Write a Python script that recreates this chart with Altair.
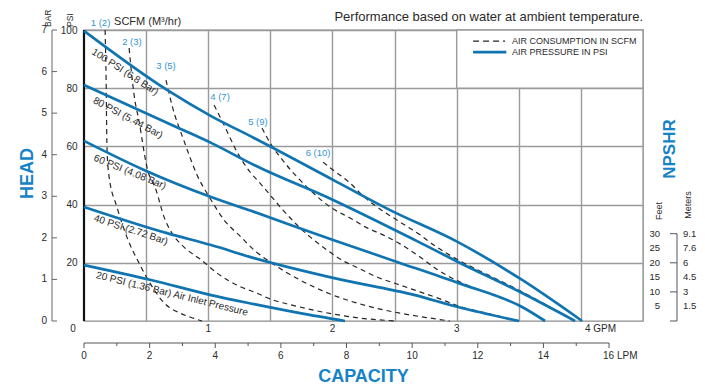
import altair as alt
import pandas as pd

FONT = "Liberation Sans"
BLUE = "#0f74b0"
HEADBLUE = "#1683c6"
LABELBLUE = "#3494d2"
GRID = "#9a9a9a"
TXT = "#2a2a2a"

# ---------------- data (x in GPM, y in PSI of head) ----------------
p100_x = [0, 0.668, 1.023, 1.369, 2.005, 2.464, 3.011, 3.527, 4.01]
p100_y = [99.7, 79.4, 70.4, 62.9, 48.5, 38.1, 27.1, 14.1, 0]
p80_x = [0, 0.773, 1.023, 1.369, 2.005, 2.665, 3.011, 3.527, 3.953]
p80_y = [81.1, 66.1, 61.2, 53.6, 41.6, 27.8, 20.3, 9.6, 0]
p60_x = [0, 0.483, 1.023, 1.369, 2.005, 2.52, 3.011, 3.527, 3.712]
p60_y = [61.9, 51.9, 42.6, 37.5, 27.8, 20.3, 13.1, 4.8, 0]
p40_x = [0, 0.668, 1.023, 1.369, 2.005, 2.665, 3.011, 3.502]
p40_y = [39.2, 30.2, 26.1, 21.6, 14.8, 8.9, 4.8, 0]
p20_x = [0, 0.539, 1.023, 1.369, 1.739, 2.101]
p20_y = [19.2, 14.1, 8.9, 5.8, 2.7, 0]

a1_x = [0.17, 0.178, 0.185, 0.20, 0.265, 0.345, 0.443, 0.53, 0.645, 0.773, 0.886, 0.95]
a1_y = [100, 82.8, 59.5, 50.2, 39.2, 28.9, 19.9, 13.1, 6.2, 2.7, 0.9, 0]
a2_x = [0.363, 0.403, 0.443, 0.508, 0.58, 0.645, 0.708, 0.805, 0.943, 1.07, 1.263, 1.368,
        1.498, 1.738, 2.005, 2.223, 2.52]
a2_y = [93.8, 77.7, 68.7, 52.6, 45.0, 35.7, 30.2, 25.4, 21.0, 16.5, 11.7, 10.0, 7.6, 4.8,
        2.4, 1.0, 0]
a3_x = [0.66, 0.708, 0.805, 0.91, 1.023, 1.128, 1.263, 1.368, 1.498, 1.738, 2.005, 2.278,
        2.543, 2.785, 2.945]
a3_y = [82.8, 74.2, 61.9, 50.2, 41.6, 34.7, 28.9, 24.4, 20.3, 14.1, 8.9, 5.2, 2.7, 1.0, 0]
a4_x = [1.047, 1.127, 1.232, 1.337, 1.417, 1.498, 1.602, 1.715, 1.82, 1.956, 2.061, 2.222,
        2.359, 2.52, 2.705, 2.866, 3.011, 3.269, 3.502]
a4_y = [74.2, 67.4, 58.1, 51.2, 47.4, 43.3, 38.1, 33.0, 28.9, 24.4, 21.3, 17.9, 15.1, 12.7,
        10.0, 7.6, 5.2, 2.4, 0]
a5_x = [1.433, 1.498, 1.578, 1.715, 1.82, 1.981, 2.142, 2.279, 2.407, 2.544, 2.705, 2.826,
        3.011, 3.269, 3.527, 3.712]
a5_y = [66.3, 61.2, 56.4, 49.5, 45.0, 39.2, 35.4, 32.0, 29.6, 26.5, 22.0, 18.2, 13.7, 9.3,
        4.8, 0]
a6_x = [1.924, 2.005, 2.142, 2.246, 2.359, 2.544, 2.705, 2.826, 3.011, 3.269, 3.527, 3.752,
        3.953]
a6_y = [54.6, 51.9, 47.4, 43.0, 39.2, 34.0, 29.6, 25.8, 21.0, 15.5, 10.0, 4.8, 0]

air_labels = ["1 (2)", "2 (3)", "3 (5)", "4 (7)", "5 (9)", "6 (10)"]
air_label_x = [0.133, 0.386, 0.66, 1.095, 1.40, 1.884]
air_label_y = [102.4, 95.9, 87.6, 77.0, 68.4, 57.7]

psi_labels = ["100 PSI (6.8 Bar)", "80 PSI (5.44 Bar)", "60 PSI (4.08 Bar)",
              "40 PSI (2.72 Bar)", "20 PSI (1.36 Bar) Air Inlet Pressure"]
psi_label_x = [0.33, 0.354, 0.37, 0.378, 0.709]
psi_label_y = [85.6, 69.8, 51.2, 31.3, 9.3]
psi_label_angle = [33, 28, 22, 18, 14]

gpm_ticks = [1, 2, 3]
lpm_values = list(range(0, 17))
LPM_PER_GPM = 3.7854
bar_values = list(range(0, 8))
BAR_TO_PSI = 100 / 7
feet_values = [30, 25, 20, 15, 10, 5]
meter_labels = ["9.1", "7.6", "6", "4.5", "3", "1.5"]
bracket_feet = [0, 10, 20, 30]

# ---------------- scales / axes ----------------
xs = alt.Scale(domain=[0, 4.5], nice=False, zero=False)
ys = alt.Scale(domain=[0, 100], nice=False, zero=False)
x_axis = alt.Axis(values=[0.5, 1, 1.5, 2, 2.5, 3, 3.5, 4], grid=True, gridColor=GRID,
                  gridWidth=1.4, labels=False, ticks=False, domain=False,
                  title="CAPACITY", titleX=279, titleY=55, titleAngle=0,
                  titleAlign="center", titleBaseline="middle", titleFontSize=18,
                  titleFontWeight="bold", titleColor=HEADBLUE, titleFont=FONT)
y_axis = alt.Axis(values=[20, 40, 60, 80, 100], grid=True, gridColor=GRID, gridWidth=1.4,
                  labelPadding=7, labelFontSize=10, labelColor=TXT, labelFont=FONT,
                  ticks=False, domain=False, title="HEAD", titleX=-57, titleY=143,
                  titleAngle=-90, titleAlign="center", titleBaseline="middle",
                  titleFontSize=18, titleFontWeight="bold", titleColor=HEADBLUE,
                  titleFont=FONT)


def X(f):
    return alt.X(f"{f}:Q", scale=xs, axis=x_axis)


def Y(f):
    return alt.Y(f"{f}:Q", scale=ys, axis=y_axis)


def txt(**kw):
    base = dict(font=FONT, baseline="middle", color=TXT)
    base.update(kw)
    return base


def long_df(series):
    rows = []
    for name, (xv, yv) in series.items():
        for i, (a, b) in enumerate(zip(xv, yv)):
            rows.append({"series": name, "gpm": a, "psi": b, "i": i})
    return pd.DataFrame(rows)


pres_df = long_df({"100": (p100_x, p100_y), "80": (p80_x, p80_y), "60": (p60_x, p60_y),
                   "40": (p40_x, p40_y), "20": (p20_x, p20_y)})
air_df = long_df({"1": (a1_x, a1_y), "2": (a2_x, a2_y), "3": (a3_x, a3_y),
                  "4": (a4_x, a4_y), "5": (a5_x, a5_y), "6": (a6_x, a6_y)})

layers = []

# legend box (white, covers grid)
box_df = pd.DataFrame({"gpm": [3.0], "gpm2": [4.5], "psi": [80], "psi2": [100]})
layers.append(alt.Chart(box_df).mark_rect(fill="white", stroke=GRID, strokeWidth=1.4).encode(
    x=X("gpm"), x2="gpm2", y=Y("psi"), y2="psi2"))

# left border
lb_df = pd.DataFrame({"gpm": [0], "psi": [0], "psi2": [100]})
layers.append(alt.Chart(lb_df).mark_rule(color="#111", strokeWidth=2.2).encode(
    x=X("gpm"), y=Y("psi"), y2="psi2"))

# air consumption (dashed)
layers.append(alt.Chart(air_df).mark_line(color="#262626", strokeWidth=1.2, strokeDash=[5, 4],
                                          interpolate="monotone").encode(
    x=X("gpm"), y=Y("psi"), detail="series:N", order="i:Q"))

# pressure curves
layers.append(alt.Chart(pres_df).mark_line(color=BLUE, strokeWidth=2.7,
                                           interpolate="monotone").encode(
    x=X("gpm"), y=Y("psi"), detail="series:N", order="i:Q"))

# air labels
al_df = pd.DataFrame({"t": air_labels, "gpm": air_label_x, "psi": air_label_y})
layers.append(alt.Chart(al_df).mark_text(**txt(fontSize=9.5, color=LABELBLUE)).encode(
    x=X("gpm"), y=Y("psi"), text="t:N"))

# pressure labels
pl_df = pd.DataFrame({"t": psi_labels, "gpm": psi_label_x, "psi": psi_label_y,
                      "ang": psi_label_angle})
layers.append(alt.Chart(pl_df).mark_text(**txt(fontSize=10)).encode(
    x=X("gpm"), y=Y("psi"), text="t:N", angle=alt.Angle("ang:Q", scale=None)))

# top texts
top_df = pd.DataFrame({"t": ["SCFM (M³/hr)"], "gpm": [0.242], "psi": [102.6]})
layers.append(alt.Chart(top_df).mark_text(**txt(fontSize=11, align="left")).encode(
    x=X("gpm"), y=Y("psi"), text="t:N"))
perf_df = pd.DataFrame({"t": ["Performance based on water at ambient temperature."],
                        "gpm": [4.5], "psi": [104.5]})
layers.append(alt.Chart(perf_df).mark_text(**txt(fontSize=13, align="right")).encode(
    x=X("gpm"), y=Y("psi"), text="t:N"))

# legend contents
leg_df = pd.DataFrame({"gpm": [3.132, 3.132], "gpm2": [3.39, 3.40], "psi": [96.2, 92.4],
                       "kind": ["dash", "solid"],
                       "t": ["AIR CONSUMPTION IN SCFM", "AIR PRESSURE IN PSI"],
                       "tx": [3.446, 3.446]})
layers.append(alt.Chart(leg_df[leg_df.kind == "dash"]).mark_rule(
    color="#262626", strokeWidth=1.2, strokeDash=[6, 4]).encode(
    x=X("gpm"), x2="gpm2", y=Y("psi")))
layers.append(alt.Chart(leg_df[leg_df.kind == "solid"]).mark_rule(
    color=BLUE, strokeWidth=2.7).encode(x=X("gpm"), x2="gpm2", y=Y("psi")))
layers.append(alt.Chart(leg_df).mark_text(**txt(fontSize=9, align="left")).encode(
    x=X("tx"), y=Y("psi"), text="t:N"))

# GPM labels
g_df = pd.DataFrame({"gpm": gpm_ticks, "psi": [0] * len(gpm_ticks),
                     "t": [str(v) for v in gpm_ticks]})
layers.append(alt.Chart(g_df).mark_text(**txt(fontSize=10, dy=8)).encode(
    x=X("gpm"), y=Y("psi"), text="t:N"))
g4_df = pd.DataFrame({"gpm": [4.0], "psi": [0], "t": ["4 GPM"]})
layers.append(alt.Chart(g4_df).mark_text(**txt(fontSize=10, dy=8, dx=4, align="left")).encode(
    x=X("gpm"), y=Y("psi"), text="t:N"))
g0_df = pd.DataFrame({"gpm": [0], "psi": [0], "t": ["0"]})
layers.append(alt.Chart(g0_df).mark_text(**txt(fontSize=10, dy=8, dx=-11)).encode(
    x=X("gpm"), y=Y("psi"), text="t:N"))

# LPM axis (secondary)
lpm_df = pd.DataFrame({"lpm": lpm_values})
lpm_df["gpm"] = lpm_df["lpm"] / LPM_PER_GPM
lpm_df["major"] = lpm_df["lpm"] % 2 == 0
lpm_df["t"] = [("16 LPM" if v == 16 else str(v)) if v % 2 == 0 else "" for v in lpm_values]
lline_df = pd.DataFrame({"gpm": [0], "gpm2": [16 / LPM_PER_GPM]})
layers.append(alt.Chart(lline_df).mark_rule(color="#555", strokeWidth=1).encode(
    x=X("gpm"), x2="gpm2", y=alt.value(313)))
layers.append(alt.Chart(lpm_df[lpm_df.major]).mark_rule(color="#555", strokeWidth=1).encode(
    x=X("gpm"), y=alt.value(313), y2=alt.value(318)))
layers.append(alt.Chart(lpm_df[~lpm_df.major]).mark_rule(color="#555", strokeWidth=1).encode(
    x=X("gpm"), y=alt.value(313), y2=alt.value(316)))
layers.append(alt.Chart(lpm_df[lpm_df.major & (lpm_df.lpm < 16)]).mark_text(
    **txt(fontSize=10)).encode(x=X("gpm"), y=alt.value(326), text="t:N"))
layers.append(alt.Chart(lpm_df[lpm_df.lpm == 16]).mark_text(
    **txt(fontSize=10, align="left", dx=-6)).encode(
    x=X("gpm"), y=alt.value(326), text="t:N"))

# BAR axis
bar_df = pd.DataFrame({"bar": bar_values})
bar_df["psi"] = bar_df["bar"] * BAR_TO_PSI
bar_df["t"] = bar_df["bar"].astype(str)
bline_df = pd.DataFrame({"psi": [0], "psi2": [100]})
layers.append(alt.Chart(bline_df).mark_rule(color="#666", strokeWidth=1).encode(
    x=alt.value(-32), y=Y("psi"), y2="psi2"))
layers.append(alt.Chart(bar_df).mark_rule(color="#666", strokeWidth=1).encode(
    x=alt.value(-32), x2=alt.value(-27), y=Y("psi")))
layers.append(alt.Chart(bar_df).mark_text(**txt(fontSize=10, align="right")).encode(
    x=alt.value(-37), y=Y("psi"), text="t:N"))

# rotated small titles (BAR / PSI)
rt_df = pd.DataFrame({"t": ["BAR", "PSI"], "xp": [-36, -14]})
layers.append(alt.Chart(rt_df).mark_text(**txt(fontSize=8.5, angle=270, align="left")).encode(
    x=alt.X("xp:Q", scale=None), y=alt.value(-3), text="t:N"))

# NPSHR scale
ft_df = pd.DataFrame({"feet": feet_values, "m": meter_labels})
ft_df["ft"] = ft_df["feet"].astype(str)
layers.append(alt.Chart(ft_df).mark_text(**txt(fontSize=9.5, align="right")).encode(
    x=alt.value(576), y=Y("feet"), text="ft:N"))
layers.append(alt.Chart(ft_df).mark_text(**txt(fontSize=9.5, align="left")).encode(
    x=alt.value(599), y=Y("feet"), text="m:N"))
br_df = pd.DataFrame({"feet": bracket_feet})
brl_df = pd.DataFrame({"feet": [0], "feet2": [30]})
layers.append(alt.Chart(brl_df).mark_rule(color="#555", strokeWidth=1).encode(
    x=alt.value(593), y=Y("feet"), y2="feet2"))
layers.append(alt.Chart(br_df).mark_rule(color="#555", strokeWidth=1).encode(
    x=alt.value(586), x2=alt.value(593), y=Y("feet")))
np_df = pd.DataFrame({"t": ["NPSHR"], "xp": [586], "yp": [119]})
layers.append(alt.Chart(np_df).mark_text(**txt(fontSize=17, fontWeight="bold",
                                                color=HEADBLUE, angle=270)).encode(
    x=alt.X("xp:Q", scale=None), y=alt.Y("yp:Q", scale=None), text="t:N"))
fm_df = pd.DataFrame({"t": ["Feet", "Meters"], "xp": [575, 604], "yp": [181, 175]})
layers.append(alt.Chart(fm_df).mark_text(**txt(fontSize=9, angle=270)).encode(
    x=alt.X("xp:Q", scale=None), y=alt.Y("yp:Q", scale=None), text="t:N"))

chart = alt.layer(*layers).properties(
    width=559, height=291,
    padding={"left": 76, "top": 22, "right": 54, "bottom": 63},
    autosize=alt.AutoSizeParams(type="none"),
    background="white",
).configure_view(stroke="#8c8c8c", strokeWidth=1.4)

chart.save("out.html", embed_options={"renderer": "svg", "actions": False})
